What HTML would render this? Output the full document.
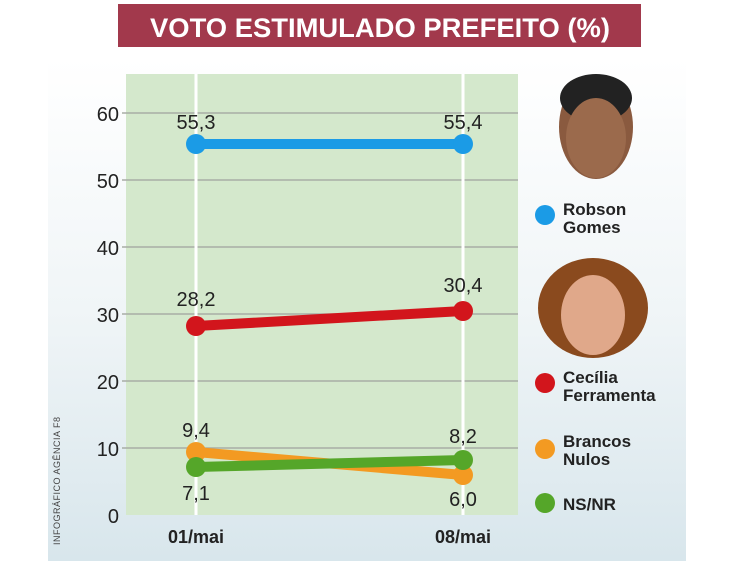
<!DOCTYPE html><html><head><style>body{margin:0;background:#fff}</style></head><body>
<svg width="756" height="567" xmlns="http://www.w3.org/2000/svg" style="display:block;font-family:'Liberation Sans',sans-serif">
<defs><linearGradient id="bg" x1="0" y1="0" x2="0" y2="1"><stop offset="0" stop-color="#ffffff"/><stop offset="0.5" stop-color="#f0f5f7"/><stop offset="1" stop-color="#d8e6ec"/></linearGradient></defs>
<rect x="118" y="4" width="523" height="43" fill="#a2394c"/>
<text x="380" y="37" text-anchor="middle" fill="#fff" font-weight="bold" font-size="27" textLength="460" lengthAdjust="spacingAndGlyphs">VOTO ESTIMULADO PREFEITO (%)</text>
<rect x="48" y="58" width="638" height="503" fill="url(#bg)"/>
<rect x="126" y="74" width="392" height="441" fill="#d4e8cc"/>
<g stroke="#a8ada5" stroke-width="1.5">
<line x1="122" y1="113" x2="518" y2="113"/><line x1="122" y1="180" x2="518" y2="180"/><line x1="122" y1="247" x2="518" y2="247"/><line x1="122" y1="314" x2="518" y2="314"/><line x1="122" y1="381" x2="518" y2="381"/><line x1="122" y1="448" x2="518" y2="448"/></g>
<g stroke="#fff" stroke-width="3"><line x1="196" y1="74" x2="196" y2="515"/><line x1="463" y1="74" x2="463" y2="515"/></g>
<g font-size="20" fill="#222" text-anchor="end"><text x="119" y="121">60</text><text x="119" y="188">50</text><text x="119" y="255">40</text><text x="119" y="322">30</text><text x="119" y="389">20</text><text x="119" y="456">10</text><text x="119" y="523">0</text></g>
<g stroke-width="10" stroke-linecap="round">
<line x1="196" y1="144" x2="463" y2="144" stroke="#1b9be6"/>
<line x1="196" y1="326" x2="463" y2="311" stroke="#d2151c"/>
<line x1="196" y1="452" x2="463" y2="475" stroke="#f39a22"/>
<line x1="196" y1="467" x2="463" y2="460" stroke="#55a629"/></g>
<circle cx="196" cy="144" r="10" fill="#1b9be6"/><circle cx="463" cy="144" r="10" fill="#1b9be6"/>
<circle cx="196" cy="326" r="10" fill="#d2151c"/><circle cx="463" cy="311" r="10" fill="#d2151c"/>
<circle cx="196" cy="452" r="10" fill="#f39a22"/><circle cx="463" cy="475" r="10" fill="#f39a22"/>
<circle cx="196" cy="467" r="10" fill="#55a629"/><circle cx="463" cy="460" r="10" fill="#55a629"/>
<g font-size="20" fill="#222" text-anchor="middle">
<text x="196" y="129">55,3</text><text x="463" y="129">55,4</text>
<text x="196" y="306">28,2</text><text x="463" y="292">30,4</text>
<text x="196" y="437">9,4</text><text x="463" y="443">8,2</text>
<text x="196" y="500">7,1</text><text x="463" y="506">6,0</text></g>
<g font-size="18" font-weight="bold" fill="#222" text-anchor="middle"><text x="196" y="543">01/mai</text><text x="463" y="543">08/mai</text></g>
<text transform="translate(60,545) rotate(-90)" font-size="9" fill="#444" letter-spacing="0.5">INFOGRÁFICO AGÊNCIA F8</text>
<ellipse cx="596" cy="127" rx="37" ry="52" fill="#8a5a3f"/><ellipse cx="596" cy="98" rx="36" ry="24" fill="#222"/><ellipse cx="596" cy="138" rx="30" ry="40" fill="#9b6a4c"/>
<ellipse cx="593" cy="308" rx="55" ry="50" fill="#8a4a1e"/><ellipse cx="593" cy="315" rx="32" ry="40" fill="#e0a88a"/>
<g font-size="17" font-weight="bold" fill="#222">
<circle cx="545" cy="215" r="10" fill="#1b9be6"/><text x="563" y="215">Robson</text><text x="563" y="233">Gomes</text>
<circle cx="545" cy="383" r="10" fill="#d2151c"/><text x="563" y="383">Cecília</text><text x="563" y="401">Ferramenta</text>
<circle cx="545" cy="449" r="10" fill="#f39a22"/><text x="563" y="447">Brancos</text><text x="563" y="465">Nulos</text>
<circle cx="545" cy="503" r="10" fill="#55a629"/><text x="563" y="510">NS/NR</text></g>
</svg></body></html>
